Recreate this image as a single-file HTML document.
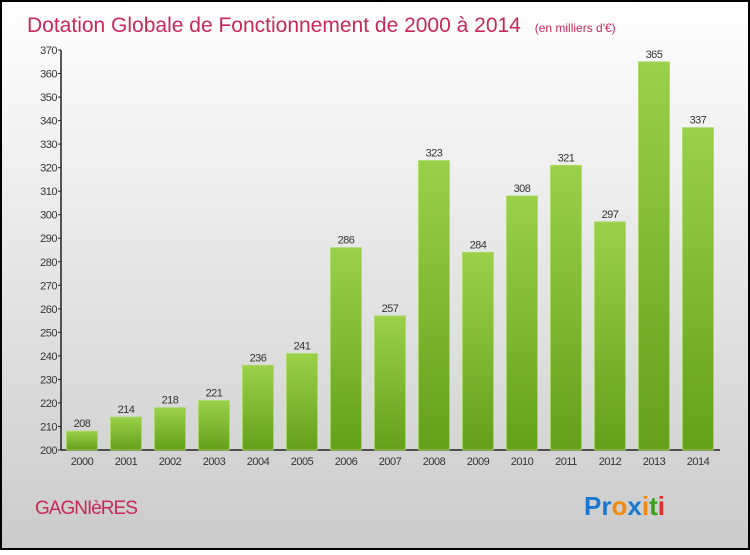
<!DOCTYPE html>
<html><head><meta charset="utf-8"><style>
html,body{margin:0;padding:0;}
body{width:750px;height:550px;overflow:hidden;font-family:"Liberation Sans",sans-serif;}
</style></head><body>
<svg width="750" height="550" xmlns="http://www.w3.org/2000/svg">
<defs>
<linearGradient id="bg" x1="0" y1="0" x2="0" y2="1"><stop offset="0" stop-color="#ffffff"/><stop offset="1" stop-color="#cbcbcb"/></linearGradient>
<linearGradient id="bar" x1="0" y1="0" x2="0" y2="1"><stop offset="0" stop-color="#9bd14a"/><stop offset="1" stop-color="#64a01a"/></linearGradient>
</defs>
<rect x="1" y="1" width="748" height="548" fill="url(#bg)" stroke="#000" stroke-width="2"/>
<text x="27" y="32" font-size="21" fill="#c8285a">Dotation Globale de Fonctionnement de 2000 à 2014 <tspan font-size="12" dx="8">(en milliers d'€)</tspan></text>
<g id="yaxis"></g>
<g id="bars"></g>
<text x="35" y="514" font-size="19" fill="#c8285a" letter-spacing="-1">GAGNIèRES</text>
<g font-size="26" font-weight="bold" font-family="'Liberation Sans',sans-serif">
<text x="584" y="515"><tspan fill="#1a78d0">P</tspan><tspan fill="#1a78d0">r</tspan><tspan fill="#f08a10">o</tspan><tspan fill="#1a78d0">x</tspan><tspan fill="#f08a10">i</tspan><tspan fill="#3aa020">t</tspan><tspan fill="#e03030">i</tspan></text>
</g>
</svg>
<script>
const years=["2000","2001","2002","2003","2004","2005","2006","2007","2008","2009","2010","2011","2012","2013","2014"];
const values=[208,214,218,221,236,241,286,257,323,284,308,321,297,365,337];
const ticks=[200,210,220,230,240,250,260,270,280,290,300,310,320,330,340,350,360,370];
const NS="http://www.w3.org/2000/svg";
const y0=450,y1=50,vmin=200,vmax=370,xl=61,xr=720;
function Y(v){return y0-(v-vmin)*(y0-y1)/(vmax-vmin);}
function X(i){return 82+44*i;}
function mk(t,a,p){const e=document.createElementNS(NS,t);for(const k in a)e.setAttribute(k,a[k]);p.appendChild(e);return e;}
const ya=document.getElementById('yaxis');
let l=mk('line',{x1:xl,y1:Y(370),x2:xl,y2:y0,stroke:'#222','stroke-width':1.5},ya);


l=mk('line',{x1:xl,y1:y0,x2:xr,y2:y0,stroke:'#222','stroke-width':1.5},ya);


ticks.forEach(v=>{
 const tk=mk('line',{x1:xl-3,y1:Y(v),x2:xl,y2:Y(v),stroke:'#222'},ya);
 
 
 const t=mk('text',{x:xl-4,y:Y(v)+4,'font-size':11,fill:'#333','text-anchor':'end','letter-spacing':'-0.5'},ya);
 t.textContent=v;
 
 
});
const bg=document.getElementById('bars');
values.forEach((v,i)=>{
 const r=mk('rect',{x:X(i)-15.5,y:Y(v),width:31,height:y0-Y(v),fill:'url(#bar)',stroke:'#a8dc60','stroke-width':0.8},bg);
 
 
 const t=mk('text',{x:X(i),y:Y(v)-4,'font-size':11,fill:'#333','text-anchor':'middle','letter-spacing':'-0.5'},bg);
 t.textContent=v;
 
 
 const xt=mk('text',{x:X(i),y:y0+15,'font-size':11,fill:'#333','text-anchor':'middle','letter-spacing':'-0.5'},bg);
 xt.textContent=years[i];
 
 
});
</script>
</body></html>
